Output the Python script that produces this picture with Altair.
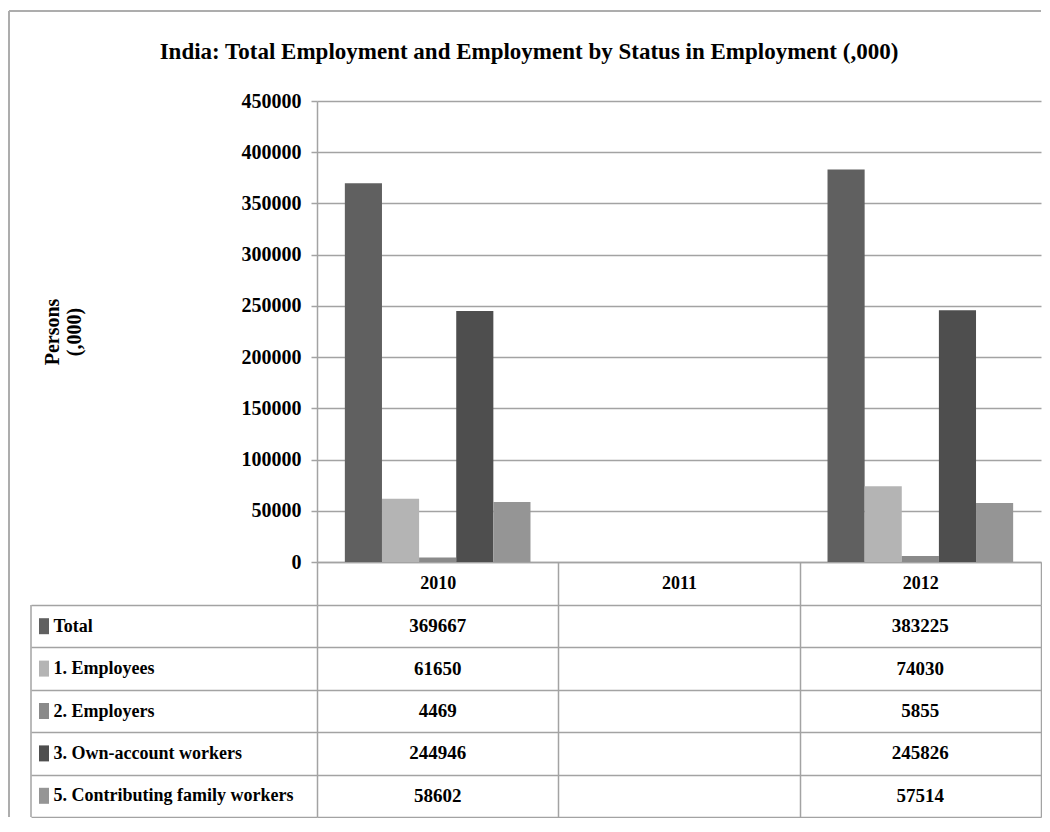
import altair as alt
import pandas as pd

# ---- data ----
years = ["2010", "2011", "2012"]
series = [
    "Total",
    "1. Employees",
    "2. Employers",
    "3. Own-account workers",
    "5. Contributing family workers",
]
values_2010 = [369667, 61650, 4469, 244946, 58602]
values_2012 = [383225, 74030, 5855, 245826, 57514]
colors = ["#606060", "#b4b4b4", "#8a8a8a", "#4e4e4e", "#959595"]
y_ticks = [0, 50000, 100000, 150000, 200000, 250000, 300000, 350000, 400000, 450000]
title_text = "India: Total Employment and Employment by Status in Employment (,000)"

rows = []
for s, v in zip(series, values_2010):
    rows.append({"year": "2010", "series": s, "value": v, "label": str(v)})
for s, v in zip(series, values_2012):
    rows.append({"year": "2012", "series": s, "value": v, "label": str(v)})
df = pd.DataFrame(rows)
legend_df = pd.DataFrame({"series": series})

FONT = "Liberation Serif"
GRID = "#a3a3a3"
BORDER = "#adadad"

# ---- layout (page pixels) ----
PLOT_LEFT = 317
PLOT_TOP = 101
PLOT_W = 724
PLOT_H = 461
HEAD_H = 43
TABLE_H = 212
TABLE_TOP = PLOT_TOP + PLOT_H + HEAD_H
BORDER_X = 9 - PLOT_LEFT
BORDER_Y = 11 - TABLE_TOP
TABLE_LEFT = 31 - PLOT_LEFT
PAD_LEFT = PLOT_LEFT - 8 - (-BORDER_X + 1)
PAD_TOP = TABLE_TOP - 8 - (-BORDER_Y + 1)

no_view = alt.ViewBackground(stroke="transparent", strokeWidth=0)

color = alt.Color("series:N", scale=alt.Scale(domain=series, range=colors), legend=None)
xscale = alt.Scale(domain=years, paddingInner=0, paddingOuter=0)

bars = alt.Chart(df, view=no_view).mark_bar().encode(
    x=alt.X(
        "year:N",
        scale=xscale,
        axis=alt.Axis(
            title=None, labelAngle=0, labelFont=FONT, labelFontSize=18,
            labelFontWeight="bold", labelColor="black", labelBaseline="middle",
            labelPadding=-HEAD_H / 2, tickSize=HEAD_H, tickBand="extent",
            tickColor=GRID, tickWidth=1.5, domainColor=GRID, domainWidth=1.5,
            grid=False,
        ),
    ),
    xOffset=alt.XOffset(
        "series:N", sort=series,
        scale=alt.Scale(domain=series, paddingInner=0, paddingOuter=0.75),
    ),
    y=alt.Y(
        "value:Q",
        scale=alt.Scale(domain=[0, 450000], nice=False),
        axis=alt.Axis(
            values=y_ticks, format="d", title=["Persons", "(,000)"],
            titleFont=FONT, titleFontSize=20, titleFontWeight="bold",
            titleColor="black", titleX=52 - PLOT_LEFT, titleY=PLOT_H / 2,
            titleAlign="center", titleBaseline="middle", labelFont=FONT,
            labelFontSize=20, labelFontWeight="bold", labelColor="black",
            labelPadding=10, tickSize=6, tickColor=GRID, tickWidth=1.5,
            domainColor=GRID, domainWidth=1.5, gridColor=GRID, gridWidth=1.5,
        ),
    ),
    color=color,
).properties(
    width=PLOT_W,
    height=PLOT_H,
    title=alt.Title(
        text=title_text, font=FONT, fontSize=23, fontWeight="bold", color="black",
        anchor="middle", frame="group", dx=529 - (PLOT_LEFT + PLOT_W / 2), offset=27,
    ),
)

ty = alt.Y(
    "series:N",
    sort=series,
    scale=alt.Scale(domain=series, paddingInner=0, paddingOuter=0),
    axis=alt.Axis(
        title=None, labelAlign="left", labelPadding=31 - 53,
        tickSize=PLOT_LEFT - 31, tickBand="extent", tickColor=GRID, tickWidth=1.5,
        grid=True, gridColor=GRID, gridWidth=1.5, domain=False, labelFont=FONT,
        labelFontSize=18, labelFontWeight="bold", labelColor="black",
        labelBaseline="middle", labelLimit=0,
    ),
)
tx = alt.X(
    "year:N",
    scale=xscale,
    axis=alt.Axis(
        orient="top", title=None, labels=False, ticks=False, domain=False,
        grid=True, gridColor=GRID, gridWidth=1.5, tickBand="extent",
    ),
)

table_text = alt.Chart(df).mark_text(
    font=FONT, fontSize=19, fontWeight="bold", color="black"
).encode(x=tx, y=ty, text="label:N")

squares = alt.Chart(legend_df).mark_point(
    filled=True, opacity=1, size=256, shape="M-0.625,-1H0.625V1H-0.625Z"
).encode(x=alt.value(44 - PLOT_LEFT), y=alt.Y("series:N", sort=series), color=color)

one = alt.Data(values=[{}])
table_left = alt.Chart(one).mark_rule(color=GRID, strokeWidth=1.5).encode(
    x=alt.value(TABLE_LEFT), x2=alt.value(TABLE_LEFT),
    y=alt.value(0), y2=alt.value(TABLE_H),
)
outer_top = alt.Chart(one).mark_rule(color=BORDER, strokeWidth=2).encode(
    x=alt.value(BORDER_X), x2=alt.value(PLOT_W),
    y=alt.value(BORDER_Y), y2=alt.value(BORDER_Y),
)
outer_left = alt.Chart(one).mark_rule(color=BORDER, strokeWidth=2).encode(
    x=alt.value(BORDER_X), x2=alt.value(BORDER_X),
    y=alt.value(BORDER_Y), y2=alt.value(TABLE_H),
)

table = alt.layer(table_text, squares, table_left, outer_top, outer_left).properties(
    width=PLOT_W, height=TABLE_H, view=no_view
)

chart = (
    alt.vconcat(bars, table, spacing=HEAD_H, bounds="flush")
    .properties(
        padding={"left": PAD_LEFT, "top": PAD_TOP, "right": 0, "bottom": 0},
        background="white",
    )
    .configure_view(stroke="transparent", strokeWidth=0)
)

chart.save("out.html", embed_options={"renderer": "svg", "actions": False})
